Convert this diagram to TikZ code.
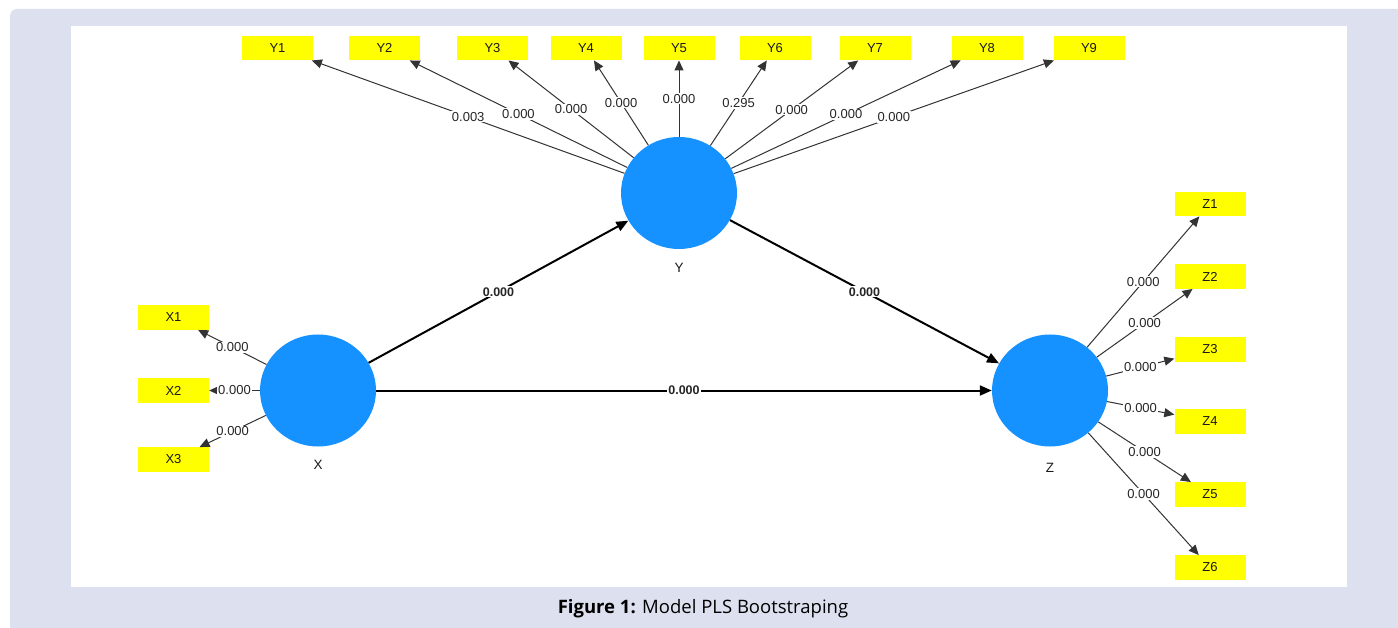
\documentclass[tikz,border=0pt]{standalone}
\usepackage{fontspec}
\setmainfont{Liberation Sans}
\newfontfamily\capfont{Open Sans}
\usetikzlibrary{arrows.meta,shapes.geometric}
\definecolor{lav}{HTML}{DDE0EE}
\definecolor{lvblue}{HTML}{1592FF}
\definecolor{indyel}{HTML}{FFFF00}
\definecolor{edgegray}{HTML}{333333}
\tikzset{
  lv/.style={ellipse, fill=lvblue, minimum width=116pt, minimum height=112pt, inner sep=0pt},
  lvlab/.style={font=\fontsize{13.5}{14}\selectfont, text=black!90},
  ind/.style={rectangle, fill=indyel, minimum width=71pt, minimum height=24.5pt, inner sep=0pt, font=\fontsize{13}{13}\selectfont, text=black!90},
  ledge/.style={draw=edgegray, line width=1pt, -{Triangle[length=10pt,width=9pt]}},
  sedge/.style={draw=black, line width=2pt, -{Triangle[length=12pt,width=10pt]}},
  elab/.style={midway, fill=white, inner sep=1pt, font=\fontsize{13}{13}\selectfont, text=black!85},
  slab/.style={midway, fill=white, inner sep=1pt, font=\bfseries\fontsize{12.5}{13}\selectfont, text=black!85}
}
\begin{document}
\begin{tikzpicture}[x=1pt,y=-1pt]
\useasboundingbox (0,0) rectangle (1398,628);
% background
\fill[lav] (10,628) [rounded corners=7pt] -- (10,9) [sharp corners] -- (1398,9) -- (1398,628) -- cycle;
\fill[white] (71,26) rectangle (1347,587);
% latent variables
\node[lv] (X) at (318,390.5) {};
\node[lv] (Y) at (679,193) {};
\node[lv] (Z) at (1050,390.5) {};
\node[lvlab] (Xl) at (318,465) {X};
\node[lvlab] (Yl) at (679,268) {Y};
\node[lvlab] (Zl) at (1050,468) {Z};
% Y indicators
\node[ind] (Y1) at (277.5,48) {Y1};
\node[ind] (Y2) at (384.5,48) {Y2};
\node[ind] (Y3) at (492.5,48) {Y3};
\node[ind] (Y4) at (586,48) {Y4};
\node[ind] (Y5) at (679,48) {Y5};
\node[ind] (Y6) at (775,48) {Y6};
\node[ind] (Y7) at (875,48) {Y7};
\node[ind] (Y8) at (987,48) {Y8};
\node[ind] (Y9) at (1089,48) {Y9};
% X indicators
\node[ind] (X1) at (173.5,317.5) {X1};
\node[ind] (X2) at (173.5,390.5) {X2};
\node[ind] (X3) at (173.5,459.5) {X3};
% Z indicators
\node[ind] (Z1) at (1210,204) {Z1};
\node[ind] (Z2) at (1210,276.5) {Z2};
\node[ind] (Z3) at (1210,349.5) {Z3};
\node[ind] (Z4) at (1210,421.5) {Z4};
\node[ind] (Z5) at (1210,494.5) {Z5};
\node[ind] (Z6) at (1210,567.5) {Z6};
% Y loadings
\draw[ledge] (Y) -- node[elab]{0.003} (Y1);
\draw[ledge] (Y) -- node[elab]{0.000} (Y2);
\draw[ledge] (Y) -- node[elab]{0.000} (Y3);
\draw[ledge] (Y) -- node[elab]{0.000} (Y4);
\draw[ledge] (Y) -- node[elab]{0.000} (Y5);
\draw[ledge] (Y) -- node[elab]{0.295} (Y6);
\draw[ledge] (Y) -- node[elab]{0.000} (Y7);
\draw[ledge] (Y) -- node[elab]{0.000} (Y8);
\draw[ledge] (Y) -- node[elab]{0.000} (Y9);
% X loadings
\draw[ledge] (X) -- node[elab]{0.000} (X1);
\draw[ledge] (X) -- node[elab]{0.000} (X2);
\draw[ledge] (X) -- node[elab]{0.000} (X3);
% Z loadings
\draw[ledge] (Z) -- node[elab]{0.000} (Z1);
\draw[ledge] (Z) -- node[elab]{0.000} (Z2);
\draw[ledge] (Z) -- node[elab]{0.000} (Z3);
\draw[ledge] (Z) -- node[elab]{0.000} (Z4);
\draw[ledge] (Z) -- node[elab]{0.000} (Z5);
\draw[ledge] (Z) -- node[elab]{0.000} (Z6);
% structural paths
\draw[sedge] (X) -- node[slab]{0.000} (Y);
\draw[sedge] (Y) -- node[slab]{0.000} (Z);
\draw[sedge] (X) -- node[slab]{0.000} (Z);
% caption
\node[font=\capfont\fontsize{18.5}{21}\selectfont, text=black] (cap) at (703,609) {\textbf{Figure 1:} Model PLS Bootstraping};
\end{tikzpicture}
\end{document}
